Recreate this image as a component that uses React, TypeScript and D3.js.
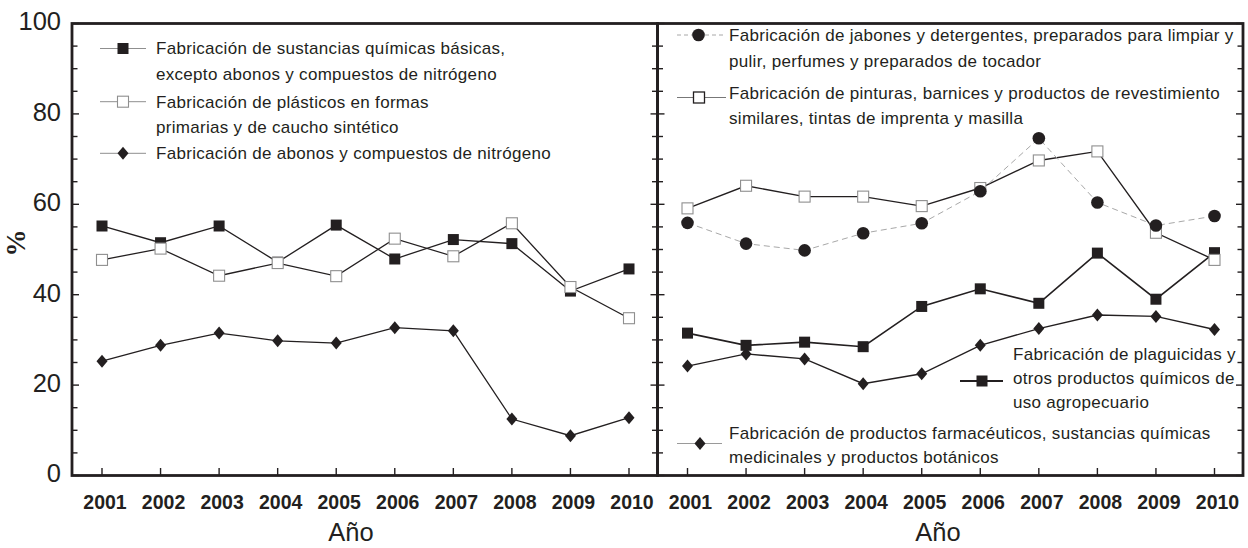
import * as React from "react";
import * as d3 from "d3";

// values (% per year)
const years = [2001, 2002, 2003, 2004, 2005, 2006, 2007, 2008, 2009, 2010];

// left panel
const quimicasBasicas = [55.2, 51.5, 55.2, 47.2, 55.4, 47.9, 52.2, 51.3, 40.8, 45.7];
const plasticos = [47.7, 50.2, 44.2, 47.0, 44.1, 52.4, 48.5, 55.8, 41.7, 34.8];
const abonos = [25.3, 28.8, 31.5, 29.8, 29.3, 32.7, 32.0, 12.5, 8.8, 12.8];

// right panel
const jabones = [55.9, 51.3, 49.8, 53.6, 55.8, 62.9, 74.6, 60.4, 55.3, 57.4];
const pinturas = [59.1, 64.1, 61.7, 61.7, 59.6, 63.6, 69.7, 71.7, 53.7, 47.7];
const plaguicidas = [31.5, 28.8, 29.5, 28.5, 37.4, 41.3, 38.1, 49.2, 39.0, 49.3];
const farmaceuticos = [24.2, 26.9, 25.8, 20.3, 22.5, 28.8, 32.5, 35.5, 35.2, 32.3];

const yTicks = [0, 20, 40, 60, 80, 100];
const minorTicks = d3.range(0, 101, 5);

const legendLeft = [
  { lines: ["Fabricación de sustancias químicas básicas,", "excepto abonos y compuestos de nitrógeno"], marker: "blacksq" },
  { lines: ["Fabricación de plásticos en formas", "primarias y de caucho sintético"], marker: "whitesq" },
  { lines: ["Fabricación de abonos y compuestos de nitrógeno"], marker: "diamond" },
];

const INK = "#231f20";
const FONT = "'Liberation Sans', Arial, Helvetica, sans-serif";
const W = 1248;
const H = 548;

const y = d3.scaleLinear().domain([0, 100]).range([475.5, 23.5]);

const panels = [
  { x0: 72, x1: 657.5 },
  { x0: 657.5, x1: 1243 },
];

const xScale = (p) => d3.scalePoint().domain(years.map(String)).range([p.x0 + 30, p.x1 - 28.5]);

const diamondPath = "M0,-6.5L5.5,0L0,6.5L-5.5,0Z";

function Marker({ kind, x, yy, dark }) {
  if (kind === "blacksq")
    return <rect x={x - 5.5} y={yy - 5.5} width={11} height={11} fill={INK} />;
  if (kind === "whitesq")
    return <rect x={x - 5.5} y={yy - 5.5} width={11} height={11} fill="#fff" stroke={dark ? INK : "#8f8f8f"} strokeWidth={dark ? 1.3 : 1.1} />;
  if (kind === "circle")
    return <circle cx={x} cy={yy} r={6.3} fill={INK} />;
  return <path d={diamondPath} transform={`translate(${x},${yy})`} fill={INK} />;
}

function Series({ values, x, kind, stroke = INK, width = 1.3, dash = null, darkMarker = false }) {
  const line = d3.line().x((d, i) => x(String(years[i]))).y((d) => y(d));
  return (
    <g>
      <path d={line(values)} fill="none" stroke={stroke} strokeWidth={width} strokeDasharray={dash || undefined} />
      {values.map((v, i) => (
        <Marker key={i} kind={kind} x={x(String(years[i]))} yy={y(v)} dark={darkMarker} />
      ))}
    </g>
  );
}

function Frame({ p, x }) {
  return (
    <g>
      {minorTicks.map((t) => {
        const len = t % 20 === 0 ? 7 : 5.5;
        return (
          <g key={t} stroke={INK} strokeWidth={1.4}>
            <line x1={p.x0} x2={p.x0 + len} y1={y(t)} y2={y(t)} />
            <line x1={p.x1} x2={p.x1 - len} y1={y(t)} y2={y(t)} />
          </g>
        );
      })}
      {years.map((yr) => (
        <line key={yr} x1={x(String(yr))} x2={x(String(yr))} y1={y(0)} y2={y(0) - 7.5} stroke={INK} strokeWidth={1.4} />
      ))}
      {years.map((yr) => (
        <text key={"l" + yr} x={x(String(yr)) + 3} y={509} textAnchor="middle" fontFamily={FONT} fontWeight="bold" fontSize={19.5} fill={INK}>
          {yr}
        </text>
      ))}
      <rect x={p.x0} y={y(100)} width={p.x1 - p.x0} height={y(0) - y(100)} fill="none" stroke={INK} strokeWidth={2.8} />
    </g>
  );
}

function LegendItem({ lx0, lx1, mx, my, kind, stroke, width, dash, dark, tx, lines }) {
  return (
    <g>
      <line x1={lx0} x2={lx1} y1={my} y2={my} stroke={stroke} strokeWidth={width} strokeDasharray={dash || undefined} />
      <Marker kind={kind} x={mx} yy={my} dark={dark} />
      {lines.map((l) => (
        <text key={l.t} x={tx} y={l.y} dy="0.35em" fontFamily={FONT} fontSize={17} letterSpacing={0.3} fill={INK}>
          {l.t}
        </text>
      ))}
    </g>
  );
}

export default function App() {
  const xl = xScale(panels[0]);
  const xr = xScale(panels[1]);
  const leftRows = [[48.5, 74], [101.7, 126.7], [153.3]];
  return (
    <div style={{ position: "absolute", left: 0, top: 0 }}>
      <svg width={W} height={H} style={{ display: "block", background: "#fff" }}>
        {/* y axis labels */}
        {yTicks.map((t) => (
          <text key={t} x={61} y={y(t) - 2} dy="0.35em" textAnchor="end" fontFamily={FONT} fontSize={25.5} fill={INK}>
            {t}
          </text>
        ))}
        <text transform="translate(16,243) rotate(-90)" textAnchor="middle" dy="0.35em" fontFamily="'Liberation Serif', 'Times New Roman', serif" fontWeight="bold" fontSize={27} fill={INK}>
          %
        </text>

        {/* left panel */}
        <Series values={abonos} x={xl} kind="diamond" />
        <Series values={quimicasBasicas} x={xl} kind="blacksq" />
        <Series values={plasticos} x={xl} kind="whitesq" />
        <Frame p={panels[0]} x={xl} />
        {legendLeft.map((it, i) => (
          <LegendItem key={i} lx0={100} lx1={146} mx={123} my={leftRows[i][0]} kind={it.marker} stroke="#8f8f8f" width={1} tx={156}
            lines={it.lines.map((t, j) => ({ t, y: leftRows[i][j] }))} />
        ))}

        {/* right panel */}
        <Series values={farmaceuticos} x={xr} kind="diamond" width={1.4} />
        <Series values={plaguicidas} x={xr} kind="blacksq" width={1.6} />
        <Series values={pinturas} x={xr} kind="whitesq" width={1.4} />
        <Series values={jabones} x={xr} kind="circle" stroke="#a8a8a8" width={1} dash="6,4" />
        <Frame p={panels[1]} x={xr} />

        <LegendItem lx0={677} lx1={726} mx={698.5} my={35} kind="circle" stroke="#a8a8a8" width={1} dash="4,3" tx={729}
          lines={[{ t: "Fabricación de jabones y detergentes, preparados para limpiar y", y: 35 }, { t: "pulir, perfumes y preparados de tocador", y: 61 }]} />
        <LegendItem lx0={677} lx1={726} mx={699} my={97.5} kind="whitesq" dark stroke="#777" width={1} tx={729}
          lines={[{ t: "Fabricación de pinturas, barnices y productos de revestimiento", y: 93 }, { t: "similares, tintas de imprenta y masilla", y: 118 }]} />
        <LegendItem lx0={960} lx1={1003} mx={982} my={381} kind="blacksq" stroke={INK} width={1.8} tx={1013}
          lines={[{ t: "Fabricación de plaguicidas y", y: 354 }, { t: "otros productos químicos de", y: 378 }, { t: "uso agropecuario", y: 402 }]} />
        <LegendItem lx0={677} lx1={722} mx={700} my={443.5} kind="diamond" stroke="#9a9a9a" width={1} tx={729}
          lines={[{ t: "Fabricación de productos farmacéuticos, sustancias químicas", y: 433.3 }, { t: "medicinales y productos botánicos", y: 457.5 }]} />

        {/* x axis titles */}
        <text x={351} y={541} textAnchor="middle" fontFamily={FONT} fontSize={25.5} fill={INK}>Año</text>
        <text x={938} y={541} textAnchor="middle" fontFamily={FONT} fontSize={25.5} fill={INK}>Año</text>
      </svg>
    </div>
  );
}
